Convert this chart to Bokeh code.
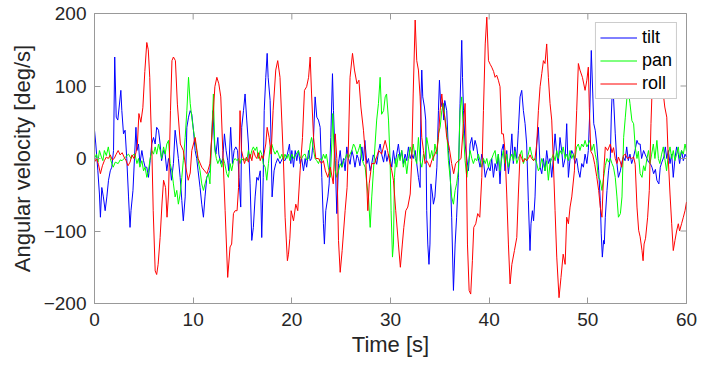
import math
from bokeh.plotting import figure
from bokeh.models import Range1d, FixedTicker, Legend, LegendItem
from bokeh.embed import file_html
from bokeh.resources import INLINE

# ---- data (time [s], angular velocity [deg/s]) ----
tilt = [(0.0,39),(0.13,20),(0.34,-17),(0.5,-49),(0.6,-81),(0.74,-40),(0.9,-53),(1.08,-72),(1.25,-53),(1.42,-30),(1.6,-17),(1.75,-12),(1.93,11),(2.05,140),(2.2,57),(2.36,53),(2.5,71),(2.67,94),(2.77,66),(2.94,34),(3.1,39),(3.27,0),(3.45,-53),(3.6,-95),(3.7,-72),(3.9,-44),(4.05,0),(4.2,43),(4.3,11),(4.46,20),(4.6,-7),(4.8,11),(4.97,-3),(5.13,-12),(5.3,-12),(5.47,-26),(5.64,-3),(5.8,20),(5.98,29),(6.15,20),(6.3,43),(6.49,39),(6.65,20),(6.8,-3),(7.0,11),(7.16,6),(7.33,-17),(7.5,0),(7.67,-12),(7.8,-30),(8.0,-7),(8.17,39),(8.34,20),(8.5,0),(8.68,-26),(8.85,-58),(9.0,-86),(9.19,-53),(9.36,43),(9.53,57),(9.7,66),(9.86,61),(10.03,39),(10.2,11),(10.36,0),(10.5,-17),(10.7,-40),(10.87,-63),(11.04,-81),(11.2,-53),(11.38,-26),(11.55,-21),(11.7,-17),(11.88,29),(12.0,66),(12.16,20),(12.3,6),(12.5,29),(12.6,6),(12.8,-7),(13.0,0),(13.17,34),(13.34,11),(13.5,-3),(13.6,-17),(13.8,43),(13.98,-7),(14.15,11),(14.32,16),(14.5,11),(14.65,-26),(14.82,-67),(14.92,43),(15.1,66),(15.26,89),(15.43,53),(15.6,20),(15.77,-35),(15.94,-113),(16.1,-95),(16.28,-53),(16.45,-26),(16.6,-30),(16.8,-17),(16.95,-109),(17.1,-26),(17.2,66),(17.36,112),(17.5,145),(17.6,112),(17.8,80),(17.9,20),(18.0,-53),(18.2,-17),(18.37,-7),(18.57,0),(18.8,-7),(19.05,0),(19.3,-3),(19.55,6),(19.76,20),(19.9,-7),(20.0,11),(20.17,-12),(20.34,11),(20.5,-3),(20.67,11),(20.84,-7),(21.0,0),(21.18,-17),(21.35,0),(21.5,-12),(21.7,11),(21.86,-3),(22.0,0),(22.2,29),(22.36,85),(22.53,57),(22.7,53),(22.87,43),(23.04,-26),(23.2,-90),(23.3,-118),(23.44,-72),(23.65,-53),(23.78,-35),(23.95,29),(24.12,117),(24.22,66),(24.4,-3),(24.56,-76),(24.73,-7),(24.9,11),(25.07,-12),(25.24,0),(25.4,-17),(25.57,16),(25.74,0),(25.9,-8),(26.08,11),(26.25,2),(26.4,-12),(26.6,5),(26.75,0),(26.9,-10),(27.1,16),(27.26,-3),(27.4,25),(27.6,-7),(27.77,0),(27.94,-17),(28.1,-7),(28.25,5),(28.44,0),(28.6,-8),(28.8,11),(28.95,20),(29.1,6),(29.3,-5),(29.46,11),(29.63,-4),(29.8,6),(29.96,0),(30.13,-12),(30.3,11),(30.47,-7),(30.63,6),(30.8,20),(30.97,0),(31.14,11),(31.3,-7),(31.48,6),(31.65,-3),(31.82,16),(32.0,0),(32.15,6),(32.3,0),(32.5,11),(32.66,-7),(32.83,-26),(33.0,-40),(33.1,89),(33.17,122),(33.27,85),(33.44,71),(33.57,53),(33.67,-72),(33.78,-118),(33.9,-146),(34.0,-118),(34.1,-35),(34.25,-49),(34.35,-63),(34.5,-53),(34.7,-12),(34.86,66),(34.96,108),(35.1,71),(35.26,80),(35.4,53),(35.5,80),(35.7,66),(35.87,11),(36.04,-17),(36.2,-81),(36.38,-182),(36.55,-118),(36.7,-81),(36.88,-26),(37.05,76),(37.22,163),(37.3,112),(37.4,66),(37.56,20),(37.73,0),(37.9,-17),(38.07,20),(38.24,29),(38.4,11),(38.57,25),(38.74,16),(38.9,0),(39.08,-12),(39.25,6),(39.42,-3),(39.6,-26),(39.76,-17),(39.93,-12),(40.1,-17),(40.26,0),(40.43,-26),(40.6,-7),(40.76,-17),(40.93,6),(41.1,-35),(41.27,11),(41.44,20),(41.6,-17),(41.78,11),(41.95,-21),(42.12,0),(42.3,34),(42.45,-7),(42.6,16),(42.8,0),(42.96,39),(43.13,85),(43.3,94),(43.47,66),(43.64,48),(43.8,20),(43.97,-58),(44.14,-127),(44.24,-90),(44.38,-72),(44.5,-86),(44.65,-53),(44.82,20),(44.99,43),(45.16,-12),(45.33,-21),(45.5,0),(45.66,-17),(45.83,11),(46.0,-7),(46.17,0),(46.34,-26),(46.5,0),(46.68,34),(46.85,6),(47.0,-7),(47.18,29),(47.35,11),(47.5,-12),(47.7,0),(47.86,48),(48.03,-26),(48.2,0),(48.37,11),(48.53,6),(48.7,-7),(48.87,0),(49.04,-17),(49.2,-26),(49.38,-7),(49.55,-12),(49.72,6),(49.9,-7),(50.05,11),(50.2,66),(50.35,149),(50.5,89),(50.6,48),(50.75,39),(50.9,20),(51.1,-17),(51.26,-58),(51.36,-104),(51.47,-136),(51.6,-113),(51.67,-118),(51.77,-81),(51.94,-44),(52.1,-17),(52.28,2),(52.38,60),(52.48,94),(52.6,85),(52.78,34),(52.95,-7),(53.1,-26),(53.3,-17),(53.45,-5),(53.6,2),(53.77,-3),(53.94,16),(54.1,-3),(54.27,6),(54.44,-7),(54.6,0),(54.78,11),(54.98,25),(55.12,20),(55.3,20),(55.45,0),(55.65,11),(55.8,6),(55.99,0),(56.15,-5),(56.33,-7),(56.5,-12),(56.67,-21),(56.85,-15),(57.0,-30),(57.2,-35),(57.34,-12),(57.5,-5),(57.7,2),(57.85,16),(58.0,0),(58.16,11),(58.33,-7),(58.5,6),(58.66,-26),(58.83,0),(59.0,16),(59.17,6),(59.3,-7),(59.5,11),(59.68,-3),(59.85,6),(60.0,2)]

pan = [(0.0,0),(0.2,6),(0.35,-5),(0.5,11),(0.7,2),(0.85,-3),(1.0,11),(1.2,4),(1.4,16),(1.6,0),(1.75,-7),(1.9,-12),(2.1,-5),(2.4,-7),(2.6,-2),(2.8,-3),(3.0,0),(3.2,3),(3.45,6),(3.7,0),(3.9,5),(4.1,6),(4.3,-7),(4.46,0),(4.6,-12),(4.8,-3),(4.97,-17),(5.13,-12),(5.3,-26),(5.47,-17),(5.64,0),(5.8,11),(5.98,6),(6.15,16),(6.3,6),(6.49,20),(6.65,11),(6.8,0),(7.0,16),(7.16,6),(7.33,20),(7.5,25),(7.67,-7),(7.84,-17),(8.0,-35),(8.17,-53),(8.34,-44),(8.5,-63),(8.68,-49),(8.85,-26),(9.0,-3),(9.19,29),(9.36,66),(9.53,112),(9.7,76),(9.86,57),(10.03,39),(10.2,25),(10.36,11),(10.5,-3),(10.7,-17),(10.87,-35),(11.04,-44),(11.2,-35),(11.38,-26),(11.55,-21),(11.7,-35),(11.88,29),(12.05,89),(12.2,11),(12.35,0),(12.5,-7),(12.7,0),(12.9,-12),(13.05,0),(13.2,-7),(13.4,-21),(13.57,-26),(13.75,-7),(13.9,-17),(14.1,-3),(14.25,0),(14.45,-3),(14.6,0),(14.75,-7),(14.9,0),(15.1,-3),(15.25,0),(15.43,-3),(15.6,11),(15.77,0),(15.94,11),(16.1,16),(16.28,11),(16.45,16),(16.6,0),(16.8,11),(16.95,6),(17.1,-7),(17.3,-12),(17.46,-30),(17.63,-7),(17.8,16),(17.97,20),(18.15,11),(18.3,6),(18.5,11),(18.65,6),(18.8,0),(19.0,6),(19.15,-3),(19.3,6),(19.5,0),(19.65,6),(19.8,-3),(20.0,6),(20.2,0),(20.4,5),(20.67,11),(20.84,2),(21.0,0),(21.18,5),(21.35,6),(21.5,-2),(21.7,0),(21.86,20),(22.0,29),(22.2,11),(22.36,0),(22.53,-3),(22.7,-7),(22.87,0),(23.04,-3),(23.2,6),(23.37,0),(23.5,6),(23.7,-12),(23.9,-26),(24.05,20),(24.15,62),(24.25,20),(24.4,-17),(24.56,-26),(24.73,-17),(24.9,-7),(25.07,-12),(25.24,-3),(25.4,0),(25.57,6),(25.74,0),(25.9,6),(26.08,11),(26.25,20),(26.4,16),(26.6,6),(26.75,11),(26.93,20),(27.1,0),(27.26,-7),(27.43,-12),(27.6,-35),(27.77,-53),(27.94,-95),(28.1,-53),(28.27,-17),(28.44,20),(28.6,53),(28.78,76),(28.95,112),(29.1,61),(29.3,66),(29.46,85),(29.6,89),(29.8,53),(29.96,-3),(30.06,-72),(30.2,-136),(30.3,-118),(30.4,-26),(30.53,0),(30.63,-12),(30.8,6),(30.97,-3),(31.14,11),(31.3,-12),(31.48,0),(31.65,-21),(31.82,0),(32.0,16),(32.15,6),(32.3,20),(32.5,0),(32.66,-7),(32.83,29),(33.0,-3),(33.17,-12),(33.34,6),(33.5,0),(33.67,29),(33.84,16),(34.0,0),(34.18,11),(34.35,-3),(34.5,20),(34.7,6),(34.86,34),(35.03,43),(35.2,66),(35.36,76),(35.5,57),(35.7,39),(35.87,-3),(36.04,-26),(36.2,-53),(36.38,-63),(36.55,-44),(36.7,-35),(36.88,-17),(37.05,66),(37.22,85),(37.4,34),(37.56,-3),(37.73,-26),(37.9,-7),(38.07,11),(38.24,0),(38.4,-7),(38.57,0),(38.74,-3),(38.9,6),(39.08,-3),(39.25,-12),(39.42,0),(39.6,-7),(39.76,0),(39.93,-12),(40.1,-3),(40.26,0),(40.43,6),(40.6,11),(40.76,-7),(40.93,6),(41.1,-17),(41.27,0),(41.44,11),(41.6,-7),(41.78,6),(41.95,-12),(42.12,0),(42.3,6),(42.45,-3),(42.6,11),(42.8,-7),(42.96,0),(43.13,6),(43.3,11),(43.47,-7),(43.64,0),(43.8,-3),(43.97,6),(44.14,16),(44.3,6),(44.5,-3),(44.65,0),(44.82,-7),(44.99,-17),(45.16,-12),(45.33,0),(45.5,-7),(45.66,-17),(45.83,-3),(46.0,-30),(46.17,-7),(46.34,0),(46.5,6),(46.68,-3),(46.85,11),(47.0,0),(47.18,11),(47.35,6),(47.5,16),(47.7,0),(47.86,6),(48.03,-3),(48.2,11),(48.37,0),(48.53,6),(48.7,0),(48.87,16),(49.04,20),(49.2,11),(49.38,20),(49.55,16),(49.72,25),(49.9,16),(50.05,20),(50.2,25),(50.4,11),(50.6,20),(50.75,6),(50.9,-3),(51.06,-26),(51.26,-30),(51.43,-44),(51.6,-26),(51.77,-10),(51.94,0),(52.1,-5),(52.28,0),(52.45,-7),(52.6,-12),(52.78,-26),(52.95,-53),(53.1,-81),(53.3,-76),(53.46,-53),(53.63,29),(53.8,57),(53.97,85),(54.1,94),(54.27,76),(54.47,52),(54.64,48),(54.8,16),(54.98,0),(55.12,10),(55.3,-21),(55.49,-26),(55.65,-10),(55.8,-17),(55.99,0),(56.15,11),(56.3,-7),(56.47,6),(56.64,20),(56.8,0),(57.0,25),(57.15,0),(57.3,-7),(57.48,6),(57.65,16),(57.8,0),(57.98,-17),(58.16,6),(58.33,16),(58.5,0),(58.66,11),(58.83,-3),(59.0,6),(59.17,16),(59.3,0),(59.5,11),(59.68,6),(59.85,20),(60.0,10)]

roll = [(0.0,-5),(0.2,0),(0.4,-8),(0.6,-21),(0.8,-10),(1.0,-3),(1.2,2),(1.4,0),(1.6,5),(1.8,-2),(2.0,0),(2.2,6),(2.4,11),(2.6,5),(2.8,8),(3.0,2),(3.2,-3),(3.4,-10),(3.6,-5),(3.8,5),(4.0,0),(4.2,8),(4.35,20),(4.5,62),(4.7,50),(4.9,70),(5.1,120),(5.3,160),(5.45,150),(5.6,112),(5.7,60),(5.8,20),(5.95,-72),(6.15,-155),(6.3,-160),(6.45,-146),(6.65,-109),(6.85,-60),(7.0,-30),(7.2,-40),(7.35,-81),(7.5,-49),(7.7,66),(7.85,135),(8.0,140),(8.2,135),(8.4,75),(8.7,20),(9.0,11),(9.25,-12),(9.5,-30),(9.7,-20),(9.86,11),(10.2,29),(10.5,0),(10.87,-12),(11.1,-16),(11.4,-21),(11.7,-7),(11.95,43),(12.2,99),(12.4,112),(12.6,103),(12.8,85),(13.0,11),(13.24,-72),(13.5,-164),(13.74,-122),(13.9,-118),(14.08,-76),(14.25,-72),(14.45,-72),(14.6,-40),(14.75,66),(14.9,11),(15.2,-7),(15.4,2),(15.6,-5),(15.77,6),(15.95,-3),(16.1,11),(16.3,3),(16.45,0),(16.6,8),(16.8,-3),(16.95,4),(17.1,0),(17.36,20),(17.5,43),(17.7,29),(17.9,6),(18.1,66),(18.37,122),(18.57,135),(18.8,112),(18.98,53),(19.15,-3),(19.32,-81),(19.55,-141),(19.66,-132),(19.8,-110),(19.93,-72),(20.17,-86),(20.4,-63),(20.6,-72),(20.84,-17),(21.08,29),(21.28,94),(21.5,99),(21.7,112),(21.86,140),(22.0,89),(22.2,29),(22.43,0),(22.7,0),(23.0,-7),(23.2,-3),(23.4,-17),(23.65,-26),(23.9,-12),(24.2,-35),(24.4,34),(24.56,0),(24.73,-113),(24.9,-157),(25.1,-127),(25.4,-72),(25.6,-40),(25.74,20),(25.9,112),(26.15,145),(26.35,122),(26.6,103),(26.8,108),(27.0,71),(27.26,39),(27.5,-3),(27.7,-72),(27.84,-35),(28.1,-7),(28.4,-7),(28.6,2),(28.8,11),(29.1,6),(29.46,25),(29.7,11),(29.96,-7),(30.13,-17),(30.3,-30),(30.53,-72),(30.8,-118),(31.0,-150),(31.2,-118),(31.35,-95),(31.55,-72),(31.75,-67),(32.0,-49),(32.15,-3),(32.3,89),(32.5,191),(32.66,135),(32.83,122),(33.0,85),(33.17,29),(33.34,11),(33.5,-7),(33.67,-3),(33.84,-7),(34.0,-12),(34.18,-3),(34.35,2),(34.5,6),(34.7,12),(34.86,29),(35.03,66),(35.2,89),(35.36,66),(35.5,57),(35.7,29),(35.94,16),(36.2,-7),(36.4,-21),(36.6,-7),(36.9,-3),(37.15,0),(37.4,48),(37.56,76),(37.66,20),(37.8,-118),(37.97,-182),(38.13,-187),(38.3,-141),(38.44,-95),(38.64,-90),(38.84,-76),(39.05,-81),(39.25,-26),(39.42,66),(39.6,158),(39.76,195),(39.93,135),(40.1,130),(40.26,126),(40.45,120),(40.6,112),(40.76,115),(40.93,108),(41.1,99),(41.27,34),(41.44,34),(41.6,11),(41.78,-49),(41.95,-118),(42.12,-173),(42.3,-146),(42.56,-127),(42.8,-109),(42.96,-49),(43.13,6),(43.3,0),(43.45,-5),(43.6,0),(43.8,-3),(43.97,0),(44.15,5),(44.3,0),(44.5,-3),(44.65,0),(44.82,20),(44.99,66),(45.16,99),(45.33,117),(45.5,135),(45.66,131),(45.83,158),(46.0,112),(46.17,76),(46.34,53),(46.5,-3),(46.68,-72),(46.85,-136),(47.08,-192),(47.28,-164),(47.5,-132),(47.7,-146),(47.86,-81),(48.03,-90),(48.2,-67),(48.37,-53),(48.64,-17),(48.87,66),(49.04,131),(49.2,122),(49.45,112),(49.72,94),(49.9,108),(50.05,126),(50.15,70),(50.3,10),(50.5,5),(50.7,-8),(50.9,-25),(51.1,-44),(51.26,-67),(51.43,-81),(51.6,-21),(51.77,16),(52.0,11),(52.28,20),(52.45,8),(52.6,15),(52.78,0),(52.95,-7),(53.1,2),(53.3,-5),(53.43,-12),(53.6,4),(53.8,6),(54.0,0),(54.2,2),(54.45,0),(54.64,2),(54.8,-8),(54.98,-67),(55.15,-99),(55.3,-108),(55.49,-127),(55.6,-141),(55.7,-118),(55.85,-110),(56.06,-81),(56.23,-44),(56.4,48),(56.55,110),(56.8,130),(57.1,135),(57.4,115),(57.65,89),(57.8,71),(58.0,57),(58.16,-3),(58.33,-49),(58.5,-90),(58.66,-127),(58.83,-113),(59.0,-100),(59.17,-90),(59.3,-100),(59.5,-90),(59.68,-81),(59.85,-72),(60.0,-60)]

x_ticks = [0, 10, 20, 30, 40, 50, 60]
y_ticks = [-200, -100, 0, 100, 200]
series_names = ["tilt", "pan", "roll"]
series_colors = ["#0000ff", "#00ff00", "#ff0000"]

FONT = "Liberation Sans"
AX_COLOR = "#999999"
TXT_COLOR = "#262626"
X0, X1, Y0, Y1 = 0, 60, -200, 200

p = figure(width=706, height=366, x_range=Range1d(X0, X1), y_range=Range1d(Y0, Y1),
           output_backend="svg", toolbar_location=None,
           min_border_left=94, min_border_right=20, min_border_top=13, min_border_bottom=63)
p.xgrid.visible = False
p.ygrid.visible = False
p.outline_line_color = AX_COLOR
p.background_fill_color = "white"
p.border_fill_color = "white"

renderers = []
for data, col in zip([tilt, pan, roll], series_colors):
    ts = [d[0] for d in data]
    vs = [d[1] for d in data]
    renderers.append(p.line(ts, vs, line_color=col, line_width=1))

# inward tick marks on the top and right edges of the box (half of each dash is clipped by the frame)
p.scatter(x_ticks, [Y1] * len(x_ticks), marker="dash", size=12, angle=math.pi / 2,
          line_color=AX_COLOR, line_width=1)
p.scatter([X1] * len(y_ticks), y_ticks, marker="dash", size=12,
          line_color=AX_COLOR, line_width=1)

p.xaxis.ticker = FixedTicker(ticks=x_ticks)
p.yaxis.ticker = FixedTicker(ticks=y_ticks)
for ax in p.xaxis + p.yaxis:
    ax.axis_line_color = AX_COLOR
    ax.major_tick_line_color = AX_COLOR
    ax.major_tick_in = 6
    ax.major_tick_out = 0
    ax.minor_tick_line_color = None
    ax.major_label_text_font = FONT
    ax.major_label_text_color = TXT_COLOR
    ax.major_label_text_font_size = "19px"
    ax.axis_label_text_font = FONT
    ax.axis_label_text_font_size = "22px"
    ax.axis_label_text_font_style = "normal"
    ax.axis_label_text_color = TXT_COLOR
p.xaxis.axis_label = "Time [s]"
p.yaxis.axis_label = "Angular velocity [deg/s]"
p.xaxis.major_label_standoff = 9
p.yaxis.major_label_standoff = 8
p.xaxis.axis_label_standoff = 3
p.yaxis.axis_label_standoff = 6

legend = Legend(items=[LegendItem(label=n, renderers=[r]) for n, r in zip(series_names, renderers)],
                location="top_right")
legend.label_text_font = FONT
legend.label_text_font_size = "18px"
legend.label_text_color = "#000000"
legend.border_line_color = AX_COLOR
legend.border_line_width = 1
legend.background_fill_color = "white"
legend.background_fill_alpha = 1.0
legend.glyph_width = 37
legend.glyph_height = 21
legend.label_height = 21
legend.label_standoff = 5
legend.padding = 4
legend.spacing = 2
legend.margin = 9
p.add_layout(legend)

open("out.html", "w").write(file_html(p, INLINE))
